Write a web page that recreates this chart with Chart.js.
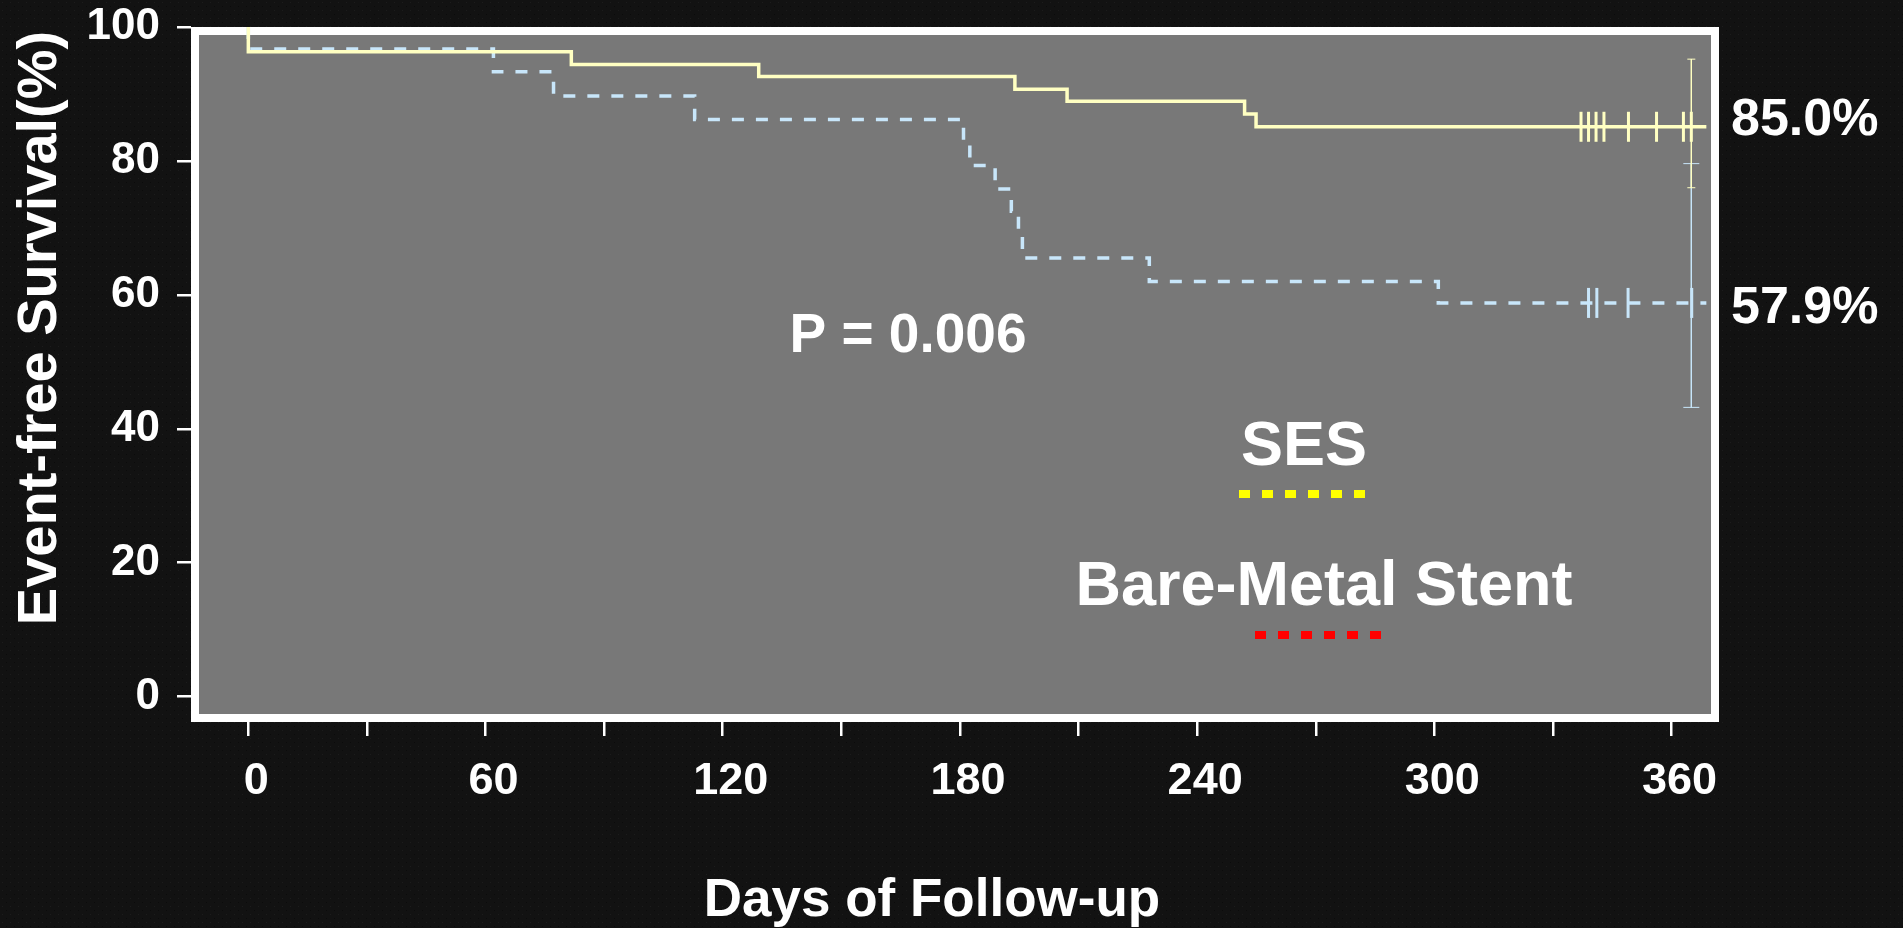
<!DOCTYPE html>
<html>
<head>
<meta charset="utf-8">
<title>Event-free Survival</title>
<script src="https://cdn.jsdelivr.net/npm/chart.js@4.4.1/dist/chart.umd.min.js"></script>
<style>
  html, body { margin: 0; padding: 0; background: #121212; overflow: hidden; }
  #wrap { width: 1903px; height: 928px; }
</style>
</head>
<body>
<div id="wrap"><canvas id="km" width="1903" height="928"></canvas></div>
<script>
// Kaplan-Meier steps (day of follow-up, event-free survival %)
const sesDays = [0, 0, 81.7, 129.1, 193.9, 207.1, 252.0, 254.9, 368.8];
const sesSurv = [100, 96.3, 94.4, 92.6, 90.7, 88.9, 87.0, 85.1, 85.1];

const bmsDays = [0, 0, 62.0, 77.2, 112.9, 180.9, 182.5, 188.9, 193.0, 194.8, 195.8, 227.9, 301.0, 368.8];
const bmsSurv = [100, 96.7, 93.3, 89.7, 86.2, 82.8, 79.3, 75.8, 72.5, 69.2, 65.5, 62.0, 58.8, 58.8];

// censored patients (the little vertical ticks at the end)
const sesCensorDays = [337.1, 339.0, 340.9, 342.9, 349.1, 356.2, 363.0, 365.0];
const bmsCensorDays = [339.0, 341.1, 349.0, 365.1];

// confidence bars at one year
const ciDay = 365;
const sesCI = [95.2, 76.0];
const bmsCI = [79.6, 43.2];

const xTicks = [0, 30, 60, 90, 120, 150, 180, 210, 240, 270, 300, 330, 360];
const xLabels = [0, 60, 120, 180, 240, 300, 360];
const yTicks = [0, 20, 40, 60, 80, 100];

const SES_LINE = '#ffffc2';
const BMS_LINE = '#c8e6fa';
const FONT = "'Liberation Sans', Arial, sans-serif";

function pts(xs, ys) {
    return xs.map((x, i) => ({ x: x, y: ys[i] }));
}

// survival level of a step curve at a given day
function survAt(days, surv, d) {
    let v = surv[0];
    for (let i = 0; i < days.length; i++) {
        if (days[i] <= d) v = surv[i];
    }
    return v;
}

function dotPattern(ctx) {
    const c = document.createElement('canvas');
    c.width = 8; c.height = 8;
    const g = c.getContext('2d');
    g.fillStyle = '#121212';
    g.fillRect(0, 0, 8, 8);
    g.fillStyle = '#1c1c1c';
    g.fillRect(2, 2, 1, 1);
    g.fillStyle = '#0b0b0b';
    g.fillRect(6, 6, 1, 1);
    return ctx.createPattern(c, 'repeat');
}

const backdrop = {
    id: 'backdrop',
    beforeDraw(chart) {
        const { ctx, chartArea: a } = chart;
        ctx.save();
        ctx.fillStyle = dotPattern(ctx);
        ctx.fillRect(0, 0, chart.width, chart.height);
        ctx.fillStyle = '#787878';
        ctx.fillRect(a.left, a.top, a.right - a.left, a.bottom - a.top);
        // thick white frame round the plot
        ctx.strokeStyle = '#ffffff';
        ctx.lineWidth = 8;
        ctx.strokeRect(a.left + 4, a.top + 4, a.right - a.left - 8, a.bottom - a.top - 8);
        ctx.restore();
    },
    afterDraw(chart) {
        const ctx = chart.ctx;
        ctx.save();
        ctx.fillStyle = '#ffffff';
        ctx.textBaseline = 'alphabetic';

        ctx.textAlign = 'center';
        ctx.font = 'bold 55px ' + FONT;
        ctx.fillText('P = 0.006', 908, 352);

        // hand-made legend
        ctx.font = 'bold 63px ' + FONT;
        ctx.fillText('SES', 1304, 465);
        ctx.fillText('Bare-Metal Stent', 1324, 605);

        ctx.lineWidth = 8;
        ctx.setLineDash([11, 12]);
        ctx.strokeStyle = '#ffff00';
        ctx.beginPath();
        ctx.moveTo(1239, 494);
        ctx.lineTo(1366, 494);
        ctx.stroke();
        ctx.strokeStyle = '#ff0000';
        ctx.beginPath();
        ctx.moveTo(1255, 635);
        ctx.lineTo(1382, 635);
        ctx.stroke();
        ctx.setLineDash([]);

        // one-year rates
        ctx.textAlign = 'left';
        ctx.font = 'bold 52px ' + FONT;
        ctx.fillText('85.0%', 1731, 135);
        ctx.fillText('57.9%', 1731, 323);

        // axis titles
        ctx.textAlign = 'center';
        ctx.font = 'bold 53px ' + FONT;
        ctx.fillText('Days of Follow-up', 932, 916);

        ctx.font = 'bold 56px ' + FONT;
        ctx.translate(56, 328);
        ctx.rotate(-Math.PI / 2);
        ctx.fillText('Event-free Survival(%)', 0, 0);
        ctx.restore();
    }
};

const tickFont = size => ({ family: FONT, size: size, weight: 'bold' });

new Chart(document.getElementById('km').getContext('2d'), {
    type: 'line',
    data: {
        datasets: [
            {
                label: 'SES',
                data: pts(sesDays, sesSurv),
                stepped: 'before',
                borderColor: SES_LINE,
                borderWidth: 3.5,
                pointRadius: 0,
                fill: false
            },
            {
                label: 'Bare-Metal Stent',
                data: pts(bmsDays, bmsSurv),
                stepped: 'before',
                borderColor: BMS_LINE,
                borderWidth: 3.5,
                borderDash: [12, 12],
                pointRadius: 0,
                fill: false
            },
            {
                label: 'SES censored',
                data: sesCensorDays.map(d => ({ x: d, y: survAt(sesDays, sesSurv, d) })),
                showLine: false,
                pointStyle: 'line',
                pointRotation: 90,
                pointRadius: 15,
                pointBorderWidth: 3,
                pointBorderColor: SES_LINE
            },
            {
                label: 'BMS censored',
                data: bmsCensorDays.map(d => ({ x: d, y: survAt(bmsDays, bmsSurv, d) })),
                showLine: false,
                pointStyle: 'line',
                pointRotation: 90,
                pointRadius: 15,
                pointBorderWidth: 3,
                pointBorderColor: BMS_LINE
            },
            {
                label: 'SES CI',
                data: sesCI.map(v => ({ x: ciDay, y: v })),
                borderColor: SES_LINE,
                borderWidth: 1,
                pointStyle: 'line',
                pointRadius: 4,
                pointBorderWidth: 1,
                pointBorderColor: SES_LINE
            },
            {
                label: 'BMS CI',
                data: bmsCI.map(v => ({ x: ciDay, y: v })),
                borderColor: BMS_LINE,
                borderWidth: 1,
                pointStyle: 'line',
                pointRadius: 8,
                pointBorderWidth: 1,
                pointBorderColor: BMS_LINE
            }
        ]
    },
    options: {
        responsive: false,
        devicePixelRatio: 1,
        animation: false,
        layout: { padding: { left: 0, top: 27, right: 184, bottom: 0 } },
        plugins: {
            legend: { display: false },
            tooltip: { enabled: false }
        },
        scales: {
            x: {
                type: 'linear',
                min: -14.5,
                max: 372,
                afterBuildTicks: s => { s.ticks = xTicks.map(v => ({ value: v })); },
                afterFit: s => {
                    s.height = 206;
                    s.paddingLeft = 0;
                    s.paddingRight = 0;
                },
                grid: { drawOnChartArea: false, drawTicks: true, tickLength: 14, color: '#ffffff', lineWidth: 2.5 },
                border: { display: false },
                ticks: {
                    autoSkip: false,
                    maxRotation: 0,
                    color: '#ffffff',
                    font: tickFont(45),
                    padding: 19,
                    labelOffset: 8,
                    callback: v => xLabels.includes(v) ? String(v) : ''
                }
            },
            y: {
                type: 'linear',
                min: -3.78,
                max: 100,
                afterBuildTicks: s => { s.ticks = yTicks.map(v => ({ value: v })); },
                afterFit: s => {
                    s.width = 191;
                    s.paddingTop = 0;
                    s.paddingBottom = 0;
                },
                grid: { drawOnChartArea: false, drawTicks: true, tickLength: 14, color: '#ffffff', lineWidth: 2.5 },
                border: { display: false },
                ticks: {
                    color: '#ffffff',
                    font: tickFont(44),
                    padding: 17
                }
            }
        }
    },
    plugins: [backdrop]
});
</script>
</body>
</html>
